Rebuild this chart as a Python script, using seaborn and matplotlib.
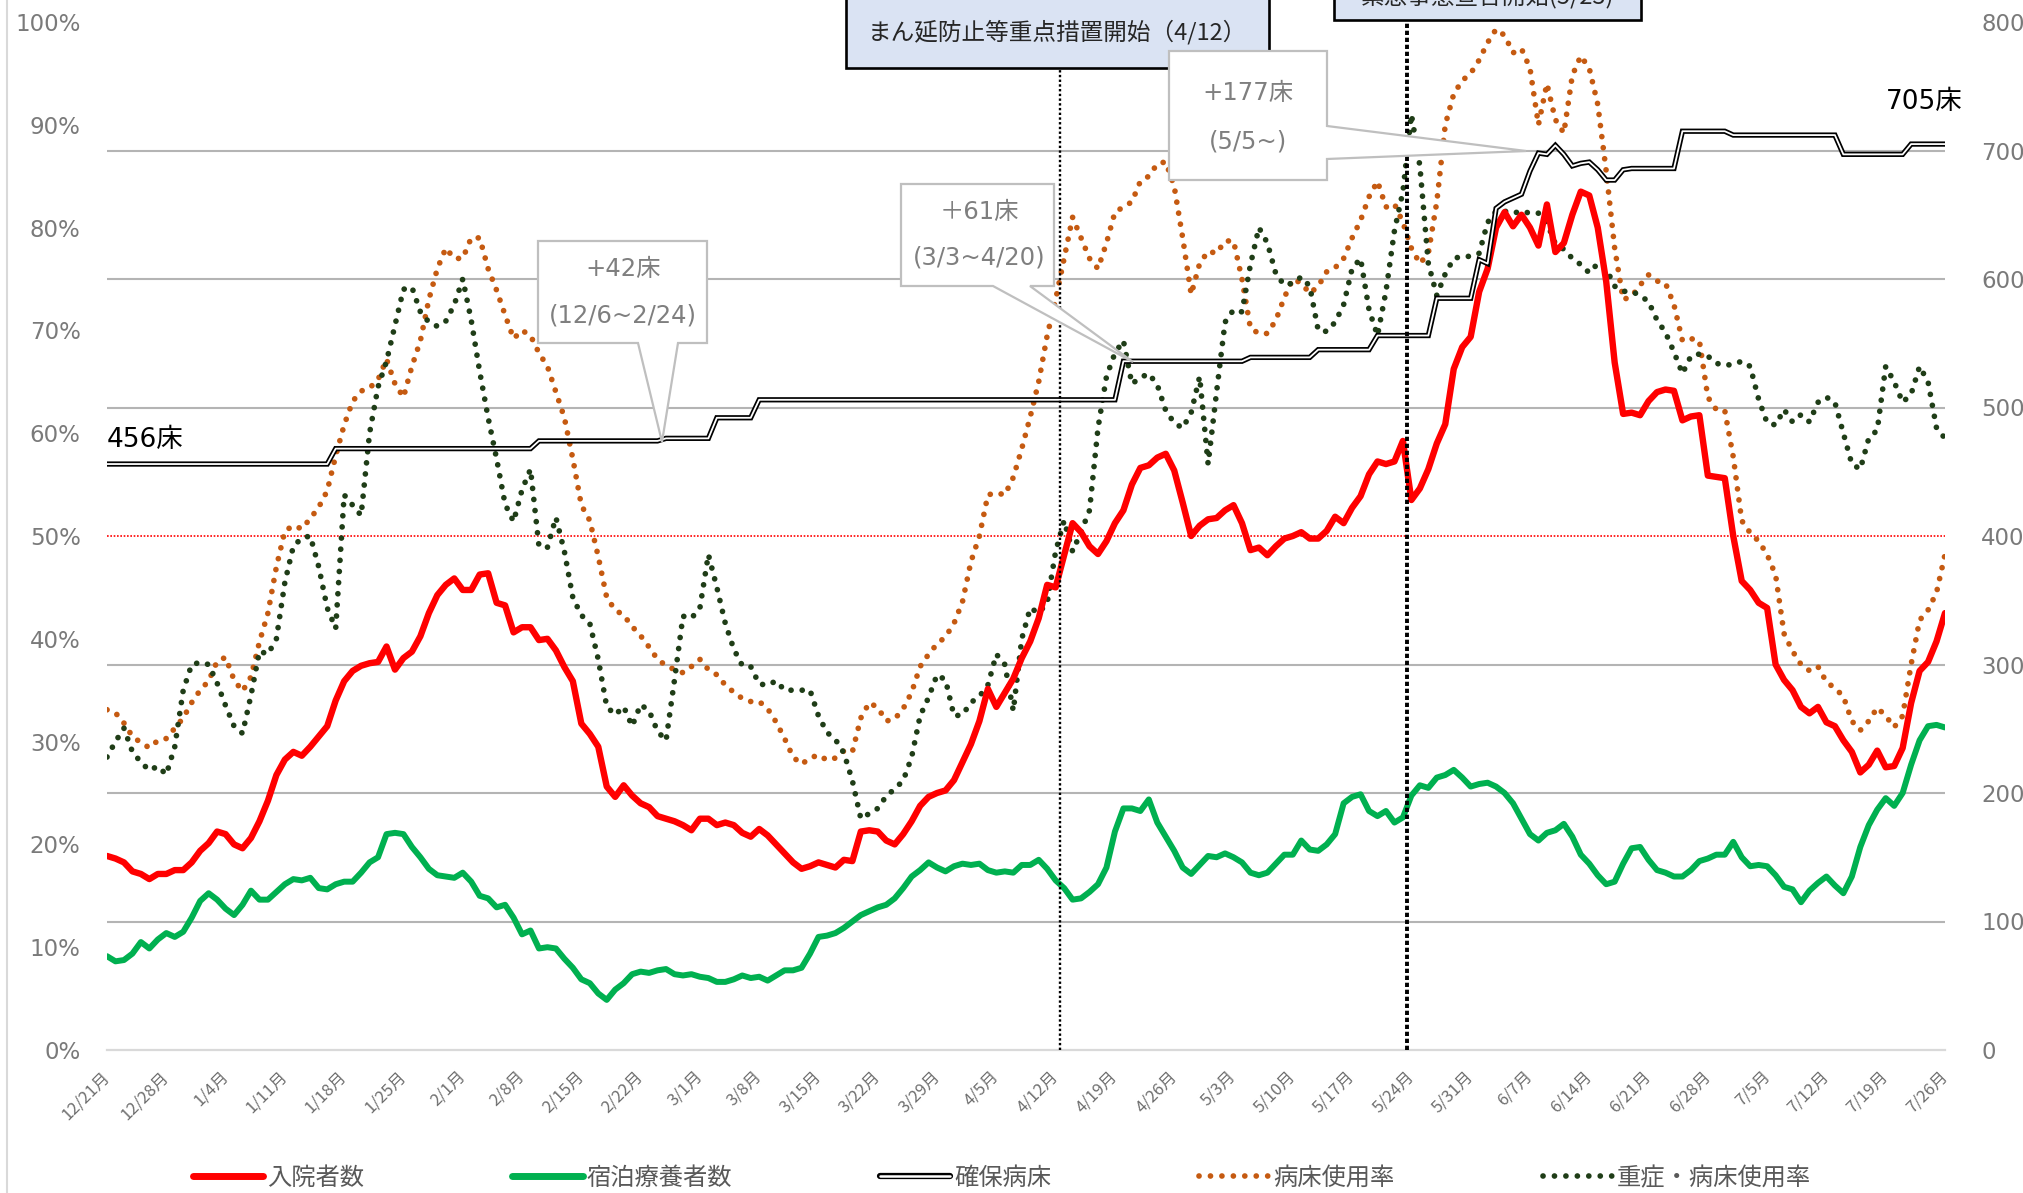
import numpy as np
import pandas as pd
import matplotlib
matplotlib.use("Agg")
import matplotlib.pyplot as plt
import matplotlib.dates as mdates
import seaborn as sns
from matplotlib.lines import Line2D
from matplotlib.patches import Polygon, Rectangle

sns.set_style("white")
plt.rcParams["font.family"] = ["DejaVu Sans", "Noto Sans CJK JP"]

# ---- daily data, one line per week (Monday start) ----
start_date = "2020-12-21"

# 入院者数 (persons, right axis)
inpatients = [
    151, 149, 146, 139, 137, 133, 137,
    137, 140, 140, 146, 155, 161, 170,
    168, 160, 157, 165, 178, 194, 214,
    226, 232, 229, 236, 244, 252, 272,
    287, 295, 299, 301, 302, 314, 296,
    305, 310, 322, 340, 354, 362, 367,
    358, 358, 370, 371, 348, 346, 325,
    329, 329, 319, 320, 311, 298, 287,
    254, 246, 236, 205, 197, 206, 198,
    192, 189, 182, 180, 178, 175, 171,
    180, 180, 175, 177, 175, 169, 166,
    172, 167, 160, 153, 146, 141, 143,
    146, 144, 142, 148, 147, 170, 171,
    170, 163, 160, 168, 178, 190, 197,
    200, 202, 210, 224, 238, 256, 281,
    267, 278, 289, 305, 318, 336, 362,
    360, 385, 410, 403, 392, 386, 396,
    410, 420, 440, 453, 455, 461, 464,
    451, 426, 400, 408, 413, 414, 420,
    424, 410, 389, 391, 385, 392, 398,
    400, 403, 398, 398, 404, 415, 410,
    422, 431, 448, 458, 456, 458, 474,
    428, 437, 452, 472, 487, 530, 547,
    555, 590, 608, 640, 652, 641, 650,
    640, 626, 658, 621, 628, 650, 668,
    665, 640, 598, 535, 495, 496, 494,
    505, 512, 514, 513, 490, 493, 494,
    447, 446, 445, 400, 365, 358, 348,
    344, 300, 288, 280, 267, 262, 267,
    255, 252, 241, 232, 216, 222, 233,
    220, 221, 235, 270, 295, 302, 318,
    340,
]

# 宿泊療養者数 (persons, right axis)
hotel_care = [
    73, 69, 70, 75, 84, 79, 86,
    91, 88, 92, 103, 116, 122, 117,
    110, 105, 113, 124, 117, 117, 123,
    129, 133, 132, 134, 126, 125, 129,
    131, 131, 138, 146, 150, 168, 169,
    168, 158, 150, 141, 136, 135, 134,
    138, 131, 120, 118, 111, 113, 103,
    90, 93, 79, 80, 79, 71, 64,
    55, 52, 44, 39, 47, 52, 59,
    61, 60, 62, 63, 59, 58, 59,
    57, 56, 53, 53, 55, 58, 56,
    57, 54, 58, 62, 62, 64, 75,
    88, 89, 91, 95, 100, 105, 108,
    111, 113, 118, 126, 135, 140, 146,
    142, 139, 143, 145, 144, 145, 140,
    138, 139, 138, 144, 144, 148, 141,
    132, 126, 117, 118, 123, 129, 142,
    170, 188, 188, 186, 195, 177, 166,
    155, 142, 137, 144, 151, 150, 153,
    150, 146, 138, 136, 138, 145, 152,
    152, 163, 156, 155, 160, 168, 192,
    197, 199, 186, 182, 186, 177, 181,
    198, 206, 204, 212, 214, 218, 212,
    205, 207, 208, 205, 200, 192, 180,
    168, 163, 169, 171, 176, 166, 152,
    145, 136, 129, 131, 145, 157, 158,
    148, 140, 138, 135, 135, 140, 147,
    149, 152, 152, 162, 150, 143, 144,
    143, 136, 127, 125, 115, 124, 130,
    135, 128, 122, 135, 158, 175, 187,
    196, 190, 200, 222, 241, 252, 253,
    251,
]

# 確保病床 (beds, right axis)
secured_beds = [
    456, 456, 456, 456, 456, 456, 456,
    456, 456, 456, 456, 456, 456, 456,
    456, 456, 456, 456, 456, 456, 456,
    456, 456, 456, 456, 456, 456, 468,
    468, 468, 468, 468, 468, 468, 468,
    468, 468, 468, 468, 468, 468, 468,
    468, 468, 468, 468, 468, 468, 468,
    468, 468, 474, 474, 474, 474, 474,
    474, 474, 474, 474, 474, 474, 474,
    474, 474, 474, 476, 476, 476, 476,
    476, 476, 492, 492, 492, 492, 492,
    506, 506, 506, 506, 506, 506, 506,
    506, 506, 506, 506, 506, 506, 506,
    506, 506, 506, 506, 506, 506, 506,
    506, 506, 506, 506, 506, 506, 506,
    506, 506, 506, 506, 506, 506, 506,
    506, 506, 506, 506, 506, 506, 506,
    506, 536, 536, 536, 536, 536, 536,
    536, 536, 536, 536, 536, 536, 536,
    536, 536, 539, 539, 539, 539, 539,
    539, 539, 539, 545, 545, 545, 545,
    545, 545, 545, 556, 556, 556, 556,
    556, 556, 556, 585, 585, 585, 585,
    585, 615, 612, 655, 660, 663, 666,
    684, 698, 697, 704, 697, 688, 690,
    691, 685, 677, 677, 685, 686, 686,
    686, 686, 686, 686, 715, 715, 715,
    715, 715, 715, 712, 712, 712, 712,
    712, 712, 712, 712, 712, 712, 712,
    712, 712, 697, 697, 697, 697, 697,
    697, 697, 697, 705, 705, 705, 705,
    705,
]

# 病床使用率 (%, left axis)
bed_occupancy = [
    33.1, 32.8, 31.8, 30.5, 29.9, 29.4, 30.1,
    30.3, 31.3, 32.3, 33.8, 35.0, 35.9, 37.8,
    38.2, 36.0, 34.9, 36.3, 39.7, 42.5, 47.0,
    50.5, 51.0, 50.7, 51.7, 52.8, 54.4, 57.8,
    60.8, 63.1, 64.1, 64.4, 65.2, 67.2, 64.8,
    63.5, 66.5, 69.0, 73.0, 76.0, 78.0, 77.0,
    77.0, 79.0, 79.0, 76.0, 73.9, 71.5, 69.2,
    70.0, 69.5, 67.8, 66.5, 64.0, 61.5, 57.5,
    53.0, 51.5, 48.0, 44.0, 42.8, 42.3, 41.2,
    40.3, 39.2, 38.0, 37.4, 37.0, 36.7, 37.3,
    38.0, 37.0, 36.5, 35.5, 34.8, 34.2, 33.9,
    33.9, 33.2, 31.9, 30.3, 28.5, 27.8, 28.4,
    28.7, 28.2, 28.4, 29.1, 29.0, 32.3, 33.8,
    33.3, 32.0, 32.2, 33.2, 34.8, 37.3, 38.5,
    39.5, 40.2, 41.5, 43.6, 47.5, 50.0, 54.0,
    54.2, 54.0, 55.7, 58.5, 61.6, 65.0, 69.5,
    73.0, 77.0, 81.0, 79.0, 77.0, 76.0, 78.5,
    81.5, 82.0, 82.5, 84.5, 85.0, 86.2, 86.4,
    84.0, 79.0, 73.5, 76.5, 77.7, 77.5, 78.7,
    78.7, 75.0, 70.2, 69.7, 69.7, 71.0, 73.2,
    75.0, 74.6, 73.6, 74.3, 75.7, 76.1, 77.0,
    79.0, 80.7, 83.0, 84.5, 82.0, 82.3, 80.5,
    78.0, 76.5, 77.5, 82.5, 90.0, 93.0, 94.3,
    95.0, 96.3, 98.0, 99.3, 98.7, 97.0, 97.4,
    95.5, 90.0, 94.0, 90.5, 89.2, 94.8, 96.7,
    95.5, 92.0, 85.5, 78.0, 73.0, 73.3, 74.4,
    75.4, 74.8, 74.6, 72.5, 69.0, 69.2, 69.0,
    63.5, 62.3, 62.2, 57.7, 51.5, 50.3, 49.5,
    48.2, 46.2, 40.5, 38.8, 37.5, 36.9, 37.3,
    35.8, 35.2, 34.4, 32.0, 31.1, 32.0, 33.3,
    32.5, 31.4, 32.5, 37.5, 41.8, 42.8, 44.5,
    48.2,
]

# 重症・病床使用率 (%, left axis)
severe_occupancy = [
    28.5, 30.0, 31.3, 29.0, 28.0, 27.2, 27.6,
    26.8, 29.5, 35.0, 37.5, 37.7, 37.5, 35.7,
    33.5, 31.5, 30.8, 34.5, 38.8, 38.5, 40.0,
    45.5, 49.0, 49.8, 50.0, 47.0, 43.0, 41.0,
    54.0, 53.0, 52.0, 60.0, 64.5, 67.0, 70.5,
    74.0, 74.2, 71.8, 70.8, 70.4, 70.9, 72.5,
    75.0, 71.0, 66.0, 61.5, 57.5, 53.1, 51.4,
    54.5, 56.5, 49.0, 48.9, 51.8, 48.5, 44.0,
    42.3, 41.5, 38.0, 33.4, 32.6, 33.4, 31.5,
    33.6, 33.0, 31.0, 30.1, 36.0, 42.2, 42.0,
    43.0, 48.2, 45.0, 41.5, 39.0, 37.4, 37.3,
    35.6, 35.5, 35.9, 35.0, 35.0, 35.0, 35.0,
    32.5, 30.9, 30.2, 28.9, 26.2, 22.5, 23.0,
    23.5, 24.7, 25.4, 26.2, 28.5, 32.5, 34.3,
    36.5, 36.0, 32.5, 32.6, 33.8, 34.4, 35.5,
    38.5, 37.5, 33.0, 40.0, 43.0, 42.5, 43.5,
    48.5, 51.5, 48.5, 50.4, 52.5, 60.5, 65.5,
    67.8, 69.0, 64.8, 65.4, 65.8, 64.7, 62.2,
    61.0, 60.5, 62.0, 65.5, 57.0, 64.0, 70.8,
    72.0, 71.8, 76.4, 80.0, 78.5, 75.5, 74.4,
    74.6, 75.2, 74.3, 70.0, 69.9, 70.8, 72.5,
    76.0, 77.0, 72.0, 69.5, 73.8, 79.7, 83.5,
    91.0, 86.0, 76.5, 73.4, 75.5, 77.0, 77.2,
    77.2, 77.5, 80.5, 81.6, 81.6, 81.4, 81.6,
    81.4, 81.4, 80.5, 78.4, 77.9, 77.0, 76.4,
    75.6, 76.5, 76.0, 74.3, 73.8, 73.8, 73.4,
    72.8, 71.0, 69.8, 67.9, 65.8, 67.5, 67.7,
    67.5, 66.8, 66.6, 66.7, 67.0, 66.5, 63.3,
    61.0, 60.8, 62.3, 61.1, 61.8, 61.1, 63.0,
    63.5, 63.0, 60.0, 57.0, 56.5, 59.5, 60.3,
    66.5, 65.0, 63.0, 63.8, 66.5, 65.0, 60.5,
    59.5,
]

series_labels = ["入院者数", "宿泊療養者数", "確保病床", "病床使用率", "重症・病床使用率"]
left_ticks = [0, 10, 20, 30, 40, 50, 60, 70, 80, 90, 100]
right_ticks = [0, 100, 200, 300, 400, 500, 600, 700, 800]
events = [("まん延防止等重点措置開始（4/12）", "2021-04-12 12:00"),
          ("緊急事態宣言開始(5/23)", "2021-05-23 12:00")]

dates = pd.date_range(start_date, periods=len(inpatients), freq="D")
df = pd.DataFrame({
    "day": mdates.date2num(dates),
    "inpatients": inpatients,
    "hotel": hotel_care,
    "beds": secured_beds,
    "rate": bed_occupancy,
    "severe": severe_occupancy,
})

# ---- colours ----
C_RED = "#ff0000"
C_GREEN = "#00b050"
C_ORANGE = "#c55a11"
C_DKGREEN = "#1f3d17"
C_GRID = "#b4b4b4"
C_AXIS = "#d9d9d9"
C_TICK = "#7a7a7a"
C_CALLOUT = "#7f7f7f"
DOT_LW = 4.1
DOTS = (0, (0.01, 1.95))

W, H = 2024, 1193
fig = plt.figure(figsize=(W / 100, H / 100), dpi=100)
fig.patch.set_facecolor("white")


def fx(px):
    return px / W


def fy(py):
    return 1 - py / H


ax = fig.add_axes([fx(107), fy(1050), fx(1945) - fx(107), fy(22) - fy(1050)])
ax2 = ax.twinx()

# ---- percentage series (left axis) ----
ax.set_axisbelow(True)
sns.lineplot(data=df, x="day", y="rate", ax=ax, color=C_ORANGE, lw=DOT_LW,
             linestyle=DOTS, dash_capstyle="round", legend=False, zorder=3)
sns.lineplot(data=df, x="day", y="severe", ax=ax, color=C_DKGREEN, lw=DOT_LW,
             linestyle=DOTS, dash_capstyle="round", legend=False, zorder=3)
ax.axhline(50, color=C_RED, lw=1.2, ls=(0, (1, 1)), zorder=2)

# ---- count series (right axis) ----
sns.lineplot(data=df, x="day", y="inpatients", ax=ax2, color=C_RED, lw=4.6,
             legend=False, zorder=3)
sns.lineplot(data=df, x="day", y="hotel", ax=ax2, color=C_GREEN, lw=4.3,
             legend=False, zorder=3)
sns.lineplot(data=df, x="day", y="beds", ax=ax2, color="black", lw=3.8,
             legend=False, zorder=4, solid_joinstyle="miter")
sns.lineplot(data=df, x="day", y="beds", ax=ax2, color="white", lw=1.3,
             legend=False, zorder=4.1)

# event lines
ev1 = mdates.date2num(pd.Timestamp(events[0][1]))
ev2 = mdates.date2num(pd.Timestamp(events[1][1]))
ax2.axvline(ev1, color="black", lw=1.7, ls=(0, (1.0, 1.0)), zorder=5)
ax2.axvline(ev2, color="black", lw=2.8, ls=(0, (1.1, 0.7)), zorder=5)

# ---- axes styling ----
ax.set_xlim(df["day"].iloc[0], df["day"].iloc[-1])
ax.set_ylim(0, 100)
ax2.set_ylim(0, 800)

ax.set_yticks(left_ticks)
ax.set_yticklabels([f"{v}%" for v in left_ticks])
ax.set_yticks([v / 8 for v in right_ticks[1:]], minor=True)
ax.yaxis.grid(True, which="minor", color=C_GRID, lw=1.5)
ax.xaxis.grid(False)
ax.tick_params(axis="y", which="both", length=0, pad=19, labelsize=16.5,
               labelcolor=C_TICK)

ax2.set_yticks(right_ticks)
ax2.set_yticklabels([str(v) for v in right_ticks])
ax2.tick_params(axis="y", length=0, pad=26, labelsize=16.5, labelcolor=C_TICK)
ax2.grid(False)

week_ticks = pd.date_range(dates[0], dates[-1], freq="7D")
ax.set_xticks(mdates.date2num(week_ticks))
ax.set_xticklabels([f"{d.month}/{d.day}月" for d in week_ticks],
                   rotation=45, ha="right", va="center", rotation_mode="anchor",
                   fontsize=12, color="#6f6f6f", family=["Noto Sans CJK JP"])
ax.tick_params(axis="x", length=4.3, width=1.4, color=C_AXIS, pad=13)

for a in (ax, ax2):
    a.set_xlabel("")
    a.set_ylabel("")
    for side in ("top", "left", "right", "bottom"):
        a.spines[side].set_visible(False)
ax.spines["bottom"].set_visible(True)
ax.spines["bottom"].set_color(C_AXIS)
ax.spines["bottom"].set_linewidth(1.6)

# ---- bed count labels ----
fig.text(fx(107), fy(440), "456床", fontsize=19, color="black",
         ha="left", va="center")
fig.text(fx(1924), fy(102), "705床", fontsize=19, color="black",
         ha="center", va="center")

# ---- event boxes at the top ----
fig.add_artist(Rectangle((fx(846), fy(67.7)), fx(1269) - fx(846), fy(-6) - fy(67.7),
                         transform=fig.transFigure, facecolor="#dae3f3",
                         edgecolor="black", lw=1.9, zorder=10))
fig.text(fx(1057), fy(32), events[0][0], fontsize=17, color="#262626",
         ha="center", va="center", family=["Noto Sans CJK JP"], zorder=11)
fig.add_artist(Rectangle((fx(1334), fy(20)), fx(1641) - fx(1334), fy(-60) - fy(20),
                         transform=fig.transFigure, facecolor="#dae3f3",
                         edgecolor="black", lw=1.9, zorder=10))
fig.text(fx(1488), fy(-3), events[1][0], fontsize=17, color="#262626",
         ha="center", va="center", family=["Noto Sans CJK JP"], zorder=11)


# ---- callouts ----
def callout(pts, lines, centers):
    poly = Polygon([(fx(x), fy(y)) for x, y in pts], closed=True,
                   transform=fig.transFigure, facecolor="white",
                   edgecolor="#bfbfbf", lw=1.6, zorder=10)
    fig.add_artist(poly)
    for txt, (cx, cy) in zip(lines, centers):
        fig.text(fx(cx), fy(cy), txt, fontsize=17.5, color=C_CALLOUT,
                 ha="center", va="center", zorder=11)


callout([(538, 241), (707, 241), (707, 343), (678, 343), (662, 442),
         (638, 343), (538, 343)],
        ["+42床", "(12/6~2/24)"], [(623, 269), (623, 316)])
callout([(901, 184), (1054, 184), (1054, 286), (1030, 286), (1133, 362),
         (993, 286), (901, 286)],
        ["＋61床", "(3/3~4/20)"], [(979, 212), (979, 258)])
callout([(1169, 51), (1327, 51), (1327, 126), (1526, 151), (1327, 159),
         (1327, 180), (1169, 180)],
        ["+177床", "(5/5~)"], [(1248, 93), (1248, 142)])

# ---- chart border on the left ----
fig.add_artist(Line2D([fx(7), fx(7)], [0, 1], transform=fig.transFigure,
                      color=C_AXIS, lw=1.5))

# ---- legend ----
handles = [
    Line2D([], [], color=C_RED, lw=5),
    Line2D([], [], color=C_GREEN, lw=5),
    (Line2D([], [], color="black", lw=4.5), Line2D([], [], color="white", lw=1.8)),
    Line2D([], [], color=C_ORANGE, lw=DOT_LW, ls=(0, (0.01, 2.0)), dash_capstyle="round"),
    Line2D([], [], color=C_DKGREEN, lw=DOT_LW, ls=(0, (0.01, 2.0)), dash_capstyle="round"),
]
fig.legend(handles, series_labels, loc="center", bbox_to_anchor=(fx(1002), fy(1178)),
           ncol=5, frameon=False, prop={"family": ["Noto Sans CJK JP"], "size": 17.5},
           labelcolor="#595959", handlelength=2.9, handletextpad=0.15,
           columnspacing=6.1, borderpad=0, borderaxespad=0)

fig.savefig("out.png", dpi=100, facecolor="white")
